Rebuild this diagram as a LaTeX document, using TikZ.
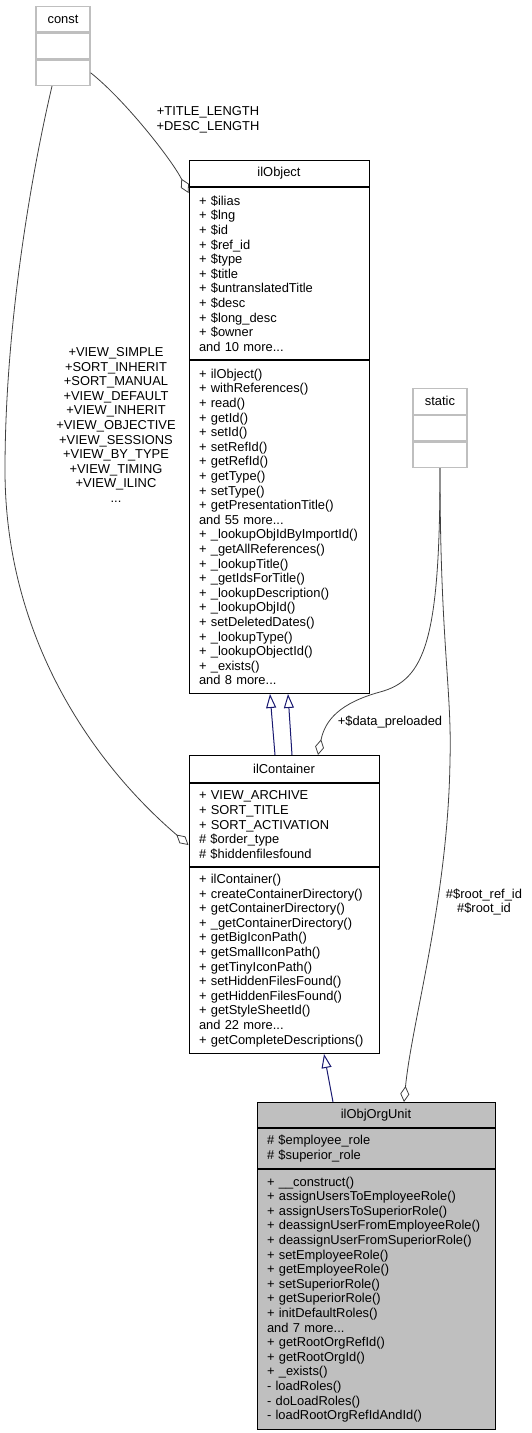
\documentclass[tikz,border=0pt]{standalone}
\usepackage{fontspec}
\setmainfont{Liberation Sans}
\usetikzlibrary{positioning, arrows.meta}
\definecolor{umlnavy}{HTML}{191970}
\definecolor{umlline}{HTML}{404040}
\definecolor{umlgray}{HTML}{BFBFBF}

\begin{document}
\begin{tikzpicture}[
    x=1bp, y=-1bp,
    font=\fontsize{12.9bp}{14.6bp}\selectfont,
    part/.style={draw, line width=1bp, fill=white, anchor=north, inner xsep=10bp, inner ysep=0pt},
    clsname/.style={part, align=center, text width=#1, minimum height=26bp},
    clsbody/.style={part, align=left, text width=#1},
    stub/.style={part, draw=umlgray, line width=1.2bp, minimum width=54bp, minimum height=25.5bp, inner xsep=0pt},
    base/.style={draw=umlnavy, line width=1bp, -{Triangle[open, length=14bp, width=10bp]}},
    uses/.style={draw=umlline, line width=0.8bp, -{Diamond[open, length=16bp, width=9bp]}},
    role/.style={align=center, inner sep=1bp},
  ]
  \useasboundingbox (0,0) rectangle (532,1433);

  % ---------------- Stub classes ----------------
  \node[stub] (constT) at (63, 6) {const};
  \node[stub, below=0pt of constT] (constA) {};
  \node[stub, below=0pt of constA] (constM) {};

  \node[stub] (staticT) at (440, 388) {static};
  \node[stub, below=0pt of staticT] (staticA) {};
  \node[stub, below=0pt of staticA] (staticM) {};

  % ---------------- ilObject ----------------
  \node[clsname=160bp] (objT) at (279, 160) {ilObject};
  \node[clsbody=160bp, minimum height=172bp, below=0pt of objT] (objA)
    {+ \$ilias\\+ \$lng\\+ \$id\\+ \$ref\_id\\+ \$type\\+ \$title\\+ \$untranslatedTitle\\+ \$desc\\+ \$long\_desc\\+ \$owner\\and 10 more...};
  \node[clsbody=160bp, minimum height=333bp, below=0pt of objA] (objM)
    {+ ilObject()\\+ withReferences()\\+ read()\\+ getId()\\+ setId()\\+ setRefId()\\+ getRefId()\\+ getType()\\+ setType()\\+ getPresentationTitle()\\and 55 more...\\+ \_lookupObjIdByImportId()\\+ \_getAllReferences()\\+ \_lookupTitle()\\+ \_getIdsForTitle()\\+ \_lookupDescription()\\+ \_lookupObjId()\\+ setDeletedDates()\\+ \_lookupType()\\+ \_lookupObjectId()\\+ \_exists()\\and 8 more...};

  % ---------------- ilContainer ----------------
  \node[clsname=170bp, minimum height=27bp] (conT) at (284, 755) {ilContainer};
  \node[clsbody=170bp, minimum height=83bp, below=0pt of conT] (conA)
    {+ VIEW\_ARCHIVE\\+ SORT\_TITLE\\+ SORT\_ACTIVATION\\\# \$order\_type\\\# \$hiddenfilesfound};
  \node[clsbody=170bp, minimum height=186bp, below=0pt of conA] (conM)
    {+ ilContainer()\\+ createContainerDirectory()\\+ getContainerDirectory()\\+ \_getContainerDirectory()\\+ getBigIconPath()\\+ getSmallIconPath()\\+ getTinyIconPath()\\+ setHiddenFilesFound()\\+ getHiddenFilesFound()\\+ getStyleSheetId()\\and 22 more...\\+ getCompleteDescriptions()};

  % ---------------- ilObjOrgUnit ----------------
  \node[clsname=218bp, minimum height=25bp, fill=umlgray] (orgT) at (376, 1102) {ilObjOrgUnit};
  \node[clsbody=218bp, minimum height=40bp, fill=umlgray, below=0pt of orgT] (orgA)
    {\# \$employee\_role\\\# \$superior\_role};
  \node[clsbody=218bp, minimum height=260bp, fill=umlgray, below=0pt of orgA] (orgM)
    {+ \_\_construct()\\+ assignUsersToEmployeeRole()\\+ assignUsersToSuperiorRole()\\+ deassignUserFromEmployeeRole()\\+ deassignUserFromSuperiorRole()\\+ setEmployeeRole()\\+ getEmployeeRole()\\+ setSuperiorRole()\\+ getSuperiorRole()\\+ initDefaultRoles()\\and 7 more...\\+ getRootOrgRefId()\\+ getRootOrgId()\\+ \_exists()\\- loadRoles()\\- doLoadRoles()\\- loadRootOrgRefIdAndId()};

  % ---------------- Inheritance ----------------
  \foreach \s/\t in {-9/-9, 8/9} \draw[base] ([xshift=\s bp]conT.north) -- ([xshift=\t bp]objM.south);
  \draw[base] ([xshift=-43bp]orgT.north) -- ([xshift=40bp]conM.south);

  % ---------------- Usage (aggregation) ----------------
  \draw[uses] (constM.east) .. controls (125,100) and (172,160) .. ([yshift=-6bp]objA.north west);
  \node[role] (lenLbl) at (208, 120) {+TITLE\_LENGTH\\+DESC\_LENGTH};

  \draw[uses] ([xshift=-11bp]constM.south) .. controls (30,180) and (5,330) .. (5,470)
              .. controls (5,640) and (95,765) .. ([yshift=-20bp]conA.west);
  \node[role] (viewLbl) at (116, 425)
    {+VIEW\_SIMPLE\\+SORT\_INHERIT\\+SORT\_MANUAL\\+VIEW\_DEFAULT\\+VIEW\_INHERIT\\+VIEW\_OBJECTIVE\\+VIEW\_SESSIONS\\+VIEW\_BY\_TYPE\\+VIEW\_TIMING\\+VIEW\_ILINC\\...};

  \draw[uses] (staticM.south) .. controls (440,640) and (425,680) .. (380,692)
              .. controls (340,703) and (325,720) .. ([xshift=34bp]conT.north);
  \node[role] (dataLbl) at (390, 722) {+\$data\_preloaded};

  \draw[uses] (staticM.south) .. controls (440,640) and (452,690) .. (450,760)
              .. controls (448,900) and (412,1020) .. ([xshift=28bp]orgT.north);
  \node[role] (rootLbl) at (484, 902) {\#\$root\_ref\_id\\\#\$root\_id};
\end{tikzpicture}
\end{document}
